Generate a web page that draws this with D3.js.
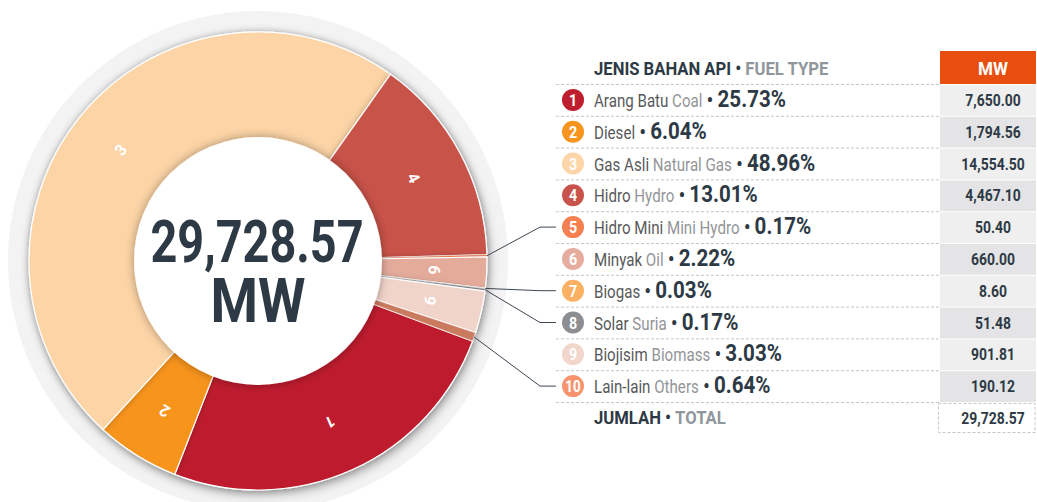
<!DOCTYPE html>
<html>
<head>
<meta charset="utf-8">
<script src="https://cdn.jsdelivr.net/npm/d3@7"></script>
<style>
  body { margin: 0; background: #fff; }
  svg { display: block; font-family: Roboto, "Liberation Sans", sans-serif; }
</style>
</head>
<body>
<svg id="chart" width="1037" height="502"></svg>
<script>
// fuel types, in the order of the table
const ids = [1, 2, 3, 4, 5, 6, 7, 8, 9, 10];
const namesMs = ["Arang Batu", "Diesel", "Gas Asli", "Hidro", "Hidro Mini", "Minyak", "Biogas", "Solar", "Biojisim", "Lain-lain"];
const namesEn = ["Coal", "", "Natural Gas", "Hydro", "Mini Hydro", "Oil", "", "Suria", "Biomass", "Others"];
const shares = [25.73, 6.04, 48.96, 13.01, 0.17, 2.22, 0.03, 0.17, 3.03, 0.64];
const mw = [7650.00, 1794.56, 14554.50, 4467.10, 50.40, 660.00, 8.60, 51.48, 901.81, 190.12];
const totalMw = 29728.57;
const colors = ["#be1e2d", "#f7941d", "#fcd4a6", "#c8534a", "#f47f50", "#e4ab9b", "#fbb062", "#8d8e92", "#f0d4ca", "#c97a5e"];
const dotColors = ["#be1e2d", "#f7941d", "#fdd5a8", "#c9534a", "#f47f50", "#e6ad9e", "#fbb062", "#8d8e92", "#f2d5cb", "#f69470"];
const headerMs = "JENIS BAHAN API";
const headerEn = "FUEL TYPE";
const totalMs = "JUMLAH";
const totalEn = "TOTAL";

const svg = d3.select("#chart");
const dark = "#2d3a45";
const cx = 258, cy = 261, rOuter = 229, rInner = 124;

const rows = ids.map((id, i) => ({
  id, ms: namesMs[i], en: namesEn[i], share: shares[i], mw: mw[i],
  color: colors[i], dot: dotColors[i]
}));

// filters
const defs = svg.append("defs");
const sh = defs.append("filter").attr("id", "pieShadow")
  .attr("x", "-20%").attr("y", "-20%").attr("width", "140%").attr("height", "140%");
sh.append("feDropShadow").attr("dx", 2).attr("dy", 4).attr("stdDeviation", 5)
  .attr("flood-color", "#000").attr("flood-opacity", 0.3);
const sh2 = defs.append("filter").attr("id", "holeShadow")
  .attr("x", "-20%").attr("y", "-20%").attr("width", "140%").attr("height", "140%");
sh2.append("feDropShadow").attr("dx", 0).attr("dy", 0).attr("stdDeviation", 5)
  .attr("flood-color", "#000").attr("flood-opacity", 0.35);
const sh3 = defs.append("filter").attr("id", "sliceShadow")
  .attr("x", "-20%").attr("y", "-20%").attr("width", "140%").attr("height", "140%");
sh3.append("feDropShadow").attr("dx", 0).attr("dy", 0).attr("stdDeviation", 3)
  .attr("flood-color", "#000").attr("flood-opacity", 0.25);

// ---- DONUT ----
const g = svg.append("g").attr("transform", `translate(${cx},${cy})`);

g.append("circle").attr("r", 250).attr("fill", "#f3f3f3");

const a0 = 110.5 * Math.PI / 180;
const pie = d3.pie().sort(null).value(d => d.mw).startAngle(a0).endAngle(a0 + 2 * Math.PI);
const arcs = pie(rows);
const arc = d3.arc().innerRadius(rInner - 10).outerRadius(rOuter);
const labelArc = d3.arc().innerRadius(rInner).outerRadius(rOuter);

const slices = g.append("g").attr("filter", "url(#pieShadow)");
slices.selectAll("path.slice")
  .data(arcs)
  .enter()
  .append("path")
  .attr("class", "slice")
  .attr("d", arc)
  .attr("fill", d => d.data.color)
  .attr("stroke", "#fff")
  .attr("stroke-width", d => d.data.share < 1 ? 0.6 : 1.2)
  .attr("filter", d => d.data.share > 2 ? "url(#sliceShadow)" : null);

// white hole with a soft shadow on the ring
g.append("circle").attr("r", rInner).attr("fill", "#fff").attr("filter", "url(#holeShadow)");

// slice numbers
g.selectAll("text.num")
  .data(arcs.filter(d => d.data.share > 2))
  .enter()
  .append("text")
  .attr("class", "num")
  .attr("transform", d => {
    const [x, y] = labelArc.centroid(d);
    const deg = (d.startAngle + d.endAngle) / 2 * 180 / Math.PI;
    return `translate(${x},${y}) rotate(${deg})`;
  })
  .attr("text-anchor", "middle")
  .attr("dy", "0.35em")
  .attr("fill", "#fff")
  .attr("font-size", 16)
  .attr("font-weight", 700)
  .text(d => d.data.id);

// centre total
g.append("text")
  .attr("x", -1).attr("y", 1)
  .attr("text-anchor", "middle")
  .attr("font-size", 60).attr("font-weight", 700).attr("fill", dark)
  .attr("textLength", 213).attr("lengthAdjust", "spacingAndGlyphs")
  .text(d3.format(",.2f")(totalMw));
g.append("text")
  .attr("x", 0).attr("y", 61)
  .attr("text-anchor", "middle")
  .attr("font-size", 61).attr("font-weight", 700).attr("fill", dark)
  .attr("textLength", 95).attr("lengthAdjust", "spacingAndGlyphs")
  .text("MW");

// ---- TABLE ----
const y = d3.scaleLinear().domain([0, 10]).range([84, 402]);
const rowH = y(1) - y(0);
const xText = 594, xDot = 573, cellX = 940, cellW = 96, valX = 993;
const sx = 0.84, hsx = 0.9;

// header
const ht = svg.append("g").attr("transform", `translate(${xText},75) scale(${hsx},1)`)
  .append("text").attr("font-size", 18.5).attr("font-weight", 700);
ht.append("tspan").attr("fill", dark).text(headerMs + " \u2022 ");
ht.append("tspan").attr("fill", "#8f969c").text(headerEn);

svg.append("rect").attr("x", cellX).attr("y", 51).attr("width", cellW).attr("height", 33)
  .attr("fill", "#e84e0f");
svg.append("text")
  .attr("transform", `translate(${valX},75) scale(${hsx},1)`)
  .attr("text-anchor", "middle").attr("font-size", 19).attr("font-weight", 700)
  .attr("fill", "#fff")
  .text("MW");

// dashed separators
svg.selectAll("line.sep")
  .data(d3.range(11))
  .enter()
  .append("line")
  .attr("class", "sep")
  .attr("x1", 556).attr("x2", cellX)
  .attr("y1", d => y(d) + 0.5).attr("y2", d => y(d) + 0.5)
  .attr("stroke", "#c4c6c8").attr("stroke-dasharray", "3,2");

const row = svg.selectAll("g.row")
  .data(rows)
  .enter()
  .append("g")
  .attr("class", "row")
  .attr("transform", (d, i) => `translate(0,${y(i) + rowH / 2})`);

row.append("rect")
  .attr("x", cellX).attr("y", -rowH / 2 + 1)
  .attr("width", cellW).attr("height", rowH - 1)
  .attr("fill", (d, i) => i % 2 ? "#e4e4e6" : "#efefef");

row.append("text")
  .attr("transform", `translate(${valX},6) scale(0.87,1)`)
  .attr("text-anchor", "middle")
  .attr("font-size", 16).attr("font-weight", 700).attr("fill", dark)
  .text(d => d3.format(",.2f")(d.mw));

row.append("circle")
  .attr("cx", xDot).attr("cy", 0).attr("r", 11)
  .attr("fill", d => d.dot);
row.append("text")
  .attr("transform", `translate(${xDot},6) scale(${sx},1)`)
  .attr("text-anchor", "middle")
  .attr("font-size", d => d.id > 9 ? 16 : 17).attr("font-weight", 700).attr("fill", "#fff")
  .text(d => d.id);

const lt = row.append("text")
  .attr("transform", `translate(${xText},7) scale(${sx},1)`)
  .attr("font-size", 18);
lt.append("tspan").attr("fill", "#58595b").text(d => d.ms);
lt.append("tspan").attr("fill", "#939598").text(d => d.en ? " " + d.en : "");
lt.append("tspan").attr("fill", dark).attr("font-weight", 700).attr("font-size", 21)
  .text(" \u2022 ");
lt.append("tspan").attr("fill", dark).attr("font-weight", 700).attr("font-size", 24.5)
  .text(d => d.share.toFixed(2) + "%");

// total row
const tt = svg.append("g").attr("transform", `translate(${xText},424) scale(${hsx},1)`)
  .append("text").attr("font-size", 18.5).attr("font-weight", 700);
tt.append("tspan").attr("fill", dark).text(totalMs + " \u2022 ");
tt.append("tspan").attr("fill", "#8f969c").text(totalEn);
svg.append("rect").attr("x", cellX - 1.5).attr("y", 403.5).attr("width", cellW + 0.5).attr("height", 29)
  .attr("fill", "none").attr("stroke", "#c4c6c8").attr("stroke-dasharray", "3,2");
svg.append("text")
  .attr("transform", `translate(${valX},424) scale(0.87,1)`)
  .attr("text-anchor", "middle")
  .attr("font-size", 16).attr("font-weight", 700).attr("fill", dark)
  .text(d3.format(",.2f")(totalMw));

// leader lines for the thin slices
const leaders = arcs.map((d, i) => ({ d, i })).filter(o => o.d.data.share < 1);
svg.selectAll("path.leader")
  .data(leaders)
  .enter()
  .append("path")
  .attr("class", "leader")
  .attr("fill", "none")
  .attr("stroke", "#3d4752")
  .attr("stroke-width", 1)
  .attr("d", o => {
    const m = (o.d.startAngle + o.d.endAngle) / 2;
    const px = cx + Math.sin(m) * rOuter, py = cy - Math.cos(m) * rOuter;
    const ry = y(o.i) + rowH / 2;
    return `M${px},${py}L540,${ry}L556,${ry}`;
  });
</script>
</body>
</html>
